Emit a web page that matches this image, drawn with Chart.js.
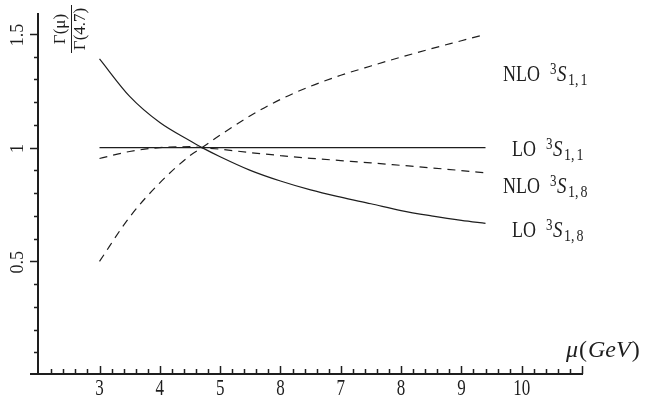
<!DOCTYPE html>
<html lang="en">
<head>
<meta charset="UTF-8">
<title>Gamma(mu)/Gamma(4.7) vs mu</title>
<script src="https://cdn.jsdelivr.net/npm/chart.js@4.4.1/dist/chart.umd.min.js"></script>
<style>
  html, body { margin: 0; padding: 0; background: #fff; }
  #wrap { width: 652px; height: 402px; }
</style>
</head>
<body>
<div id="wrap"><canvas id="chart" width="652" height="402"></canvas></div>
<script>
// renormalisation scale mu (GeV)
const muValues   = [3, 3.5, 4, 4.5, 4.7, 5, 5.5, 6, 6.5, 7, 7.5, 8, 8.5, 9, 9.4];
// ratio Gamma(mu)/Gamma(4.7)
const nloSinglet = [0.50, 0.695, 0.845, 0.965, 1.0, 1.055, 1.14, 1.212, 1.27, 1.318, 1.359, 1.398, 1.435, 1.47, 1.498];
const loSinglet  = [1, 1, 1, 1, 1, 1, 1, 1, 1, 1, 1, 1, 1, 1, 1];
const nloOctet   = [0.952, 0.983, 1.0, 1.004, 1.0, 0.993, 0.978, 0.965, 0.953, 0.943, 0.933, 0.922, 0.911, 0.899, 0.889];
const loOctet    = [1.39, 1.225, 1.11, 1.03, 1.0, 0.96, 0.90, 0.853, 0.814, 0.782, 0.753, 0.723, 0.700, 0.68, 0.667];

const xTickValues = [3, 4, 5, 6, 7, 8, 9, 10];
const xTickLabels = ['3', '4', '5', '8', '7', '8', '9', '10'];
const yTickValues = [0.5, 1, 1.5];
const yTickLabels = ['0.5', '1', '1.5'];

const X_MIN = 1.98, X_MAX = 11, Y_MIN = 0, Y_MAX = 1.592;
const SERIF = '"Liberation Serif", "DejaVu Serif", serif';
const INK = '#1e1e1e';

function pts(ys) {
  return muValues.map((x, i) => ({ x: x, y: ys[i] }));
}

function curve(ys, dashed) {
  return {
    data: pts(ys),
    borderColor: INK,
    borderWidth: 1.2,
    borderDash: dashed ? [8, 6] : [],
    pointRadius: 0,
    cubicInterpolationMode: 'monotone',
    fill: false
  };
}

// text stretched vertically like the original figure
function stretchText(ctx, text, x, y, font, sy, align) {
  ctx.save();
  ctx.translate(x, y);
  ctx.scale(1, sy);
  ctx.font = font;
  ctx.textAlign = align || 'center';
  ctx.textBaseline = 'alphabetic';
  ctx.fillText(text, 0, 0);
  ctx.restore();
}

// e.g. "NLO ^3 S_{1,1}"
function seriesLabel(ctx, x, base, prefix, sub) {
  ctx.save();
  ctx.translate(x, base);
  ctx.scale(1, 1.25);
  ctx.textAlign = 'left';
  ctx.textBaseline = 'alphabetic';
  ctx.font = '18px ' + SERIF;
  ctx.fillText(prefix, 0, 0);
  let cx = ctx.measureText(prefix).width + 10;
  ctx.font = '13px ' + SERIF;
  ctx.fillText('3', cx, -6);
  cx += ctx.measureText('3').width + 0.5;
  ctx.font = 'italic 19px ' + SERIF;
  ctx.fillText('S', cx, 0);
  cx += ctx.measureText('S').width + 1.5;
  ctx.font = '14px ' + SERIF;
  const [a, b] = sub.split(',');
  ctx.fillText(a, cx, 3);
  cx += ctx.measureText(a).width;
  ctx.fillText(',', cx, 3);
  cx += ctx.measureText(',').width + 2;
  ctx.fillText(b, cx, 3);
  ctx.restore();
}

const axesPlugin = {
  id: 'axesPlugin',
  afterDraw(chart) {
    const ctx = chart.ctx;
    const xs = chart.scales.x, ys = chart.scales.y;
    const x0 = xs.getPixelForValue(X_MIN);
    const y0 = ys.getPixelForValue(Y_MIN) - 1;
    const yTop = ys.getPixelForValue(Y_MAX);
    const xEnd = xs.getPixelForValue(X_MAX);

    ctx.save();
    ctx.strokeStyle = INK;
    ctx.fillStyle = INK;

    // axis lines
    ctx.lineWidth = 2;
    ctx.beginPath();
    ctx.moveTo(x0, yTop);
    ctx.lineTo(x0, y0 + 1);
    ctx.moveTo(x0 - 8, y0);
    ctx.lineTo(xEnd + 1, y0);
    ctx.stroke();

    // y ticks, every 0.1, drawn to the left
    ctx.lineWidth = 1.5;
    ctx.beginPath();
    for (let k = 1; k <= 15; k++) {
      const v = k / 10;
      const py = Math.round(ys.getPixelForValue(v)) + 0.5;
      const len = (k % 5 === 0) ? 8 : 4;
      ctx.moveTo(x0, py);
      ctx.lineTo(x0 - len, py);
    }
    // x ticks, every 0.2, drawn upward
    for (let k = 11; k <= 55; k++) {
      const v = k / 5;
      const px = Math.round(xs.getPixelForValue(v)) + 0.5;
      const len = (k % 5 === 0) ? 8 : 5;
      ctx.moveTo(px, y0);
      ctx.lineTo(px, y0 - len);
    }
    ctx.stroke();

    // x tick labels
    xTickValues.forEach((v, i) => {
      stretchText(ctx, xTickLabels[i], xs.getPixelForValue(v), 395, '17px ' + SERIF, 1.3, 'center');
    });

    // y tick labels, rotated
    yTickValues.forEach((v, i) => {
      ctx.save();
      ctx.translate(18, ys.getPixelForValue(v) + 1);
      ctx.rotate(-Math.PI / 2);
      ctx.font = '18px ' + SERIF;
      ctx.textAlign = 'center';
      ctx.textBaseline = 'middle';
      ctx.fillText(yTickLabels[i], 0, 0);
      ctx.restore();
    });

    // y title: Gamma(mu) / Gamma(4.7), rotated
    ctx.save();
    ctx.translate(71, 29);
    ctx.rotate(-Math.PI / 2);
    ctx.font = '17px ' + SERIF;
    ctx.textAlign = 'center';
    ctx.textBaseline = 'alphabetic';
    ctx.fillText('\u0393(\u03bc)', 0, -6);
    ctx.fillText('\u0393(4.7)', 0, 14);
    ctx.lineWidth = 1;
    ctx.beginPath();
    ctx.moveTo(-24, 0.5);
    ctx.lineTo(24, 0.5);
    ctx.stroke();
    ctx.restore();

    // x title: mu(GeV)
    ctx.save();
    ctx.textAlign = 'left';
    ctx.textBaseline = 'alphabetic';
    let tx = 566;
    const ty = 357;
    const parts = [['\u03bc', 'italic'], ['(', ''], ['GeV', 'italic'], [')', '']];
    parts.forEach(p => {
      ctx.font = (p[1] ? p[1] + ' ' : '') + '24px ' + SERIF;
      ctx.fillText(p[0], tx, ty);
      tx += ctx.measureText(p[0]).width + 1;
    });
    ctx.restore();

    // curve labels
    seriesLabel(ctx, 503, 81, 'NLO', '1,1');
    seriesLabel(ctx, 512, 156, 'LO', '1,1');
    seriesLabel(ctx, 503, 193, 'NLO', '1,8');
    seriesLabel(ctx, 512, 237, 'LO', '1,8');

    ctx.restore();
  }
};

new Chart(document.getElementById('chart'), {
  type: 'line',
  data: {
    datasets: [
      curve(nloSinglet, true),
      curve(loSinglet, false),
      curve(nloOctet, true),
      curve(loOctet, false)
    ]
  },
  options: {
    responsive: false,
    animation: false,
    devicePixelRatio: 1,
    layout: { padding: { left: 38, right: 70, top: 13, bottom: 27 } },
    plugins: { legend: { display: false }, tooltip: { enabled: false } },
    scales: {
      x: { type: 'linear', min: X_MIN, max: X_MAX, display: false },
      y: { type: 'linear', min: Y_MIN, max: Y_MAX, display: false }
    }
  },
  plugins: [axesPlugin]
});
</script>
</body>
</html>
